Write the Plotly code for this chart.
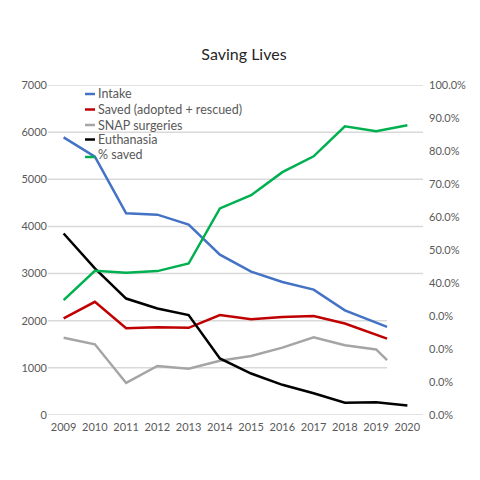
import plotly.graph_objects as go

# Values
years = [2009, 2010, 2011, 2012, 2013, 2014, 2015, 2016, 2017, 2018, 2019, 2020]
years_part = [2009, 2010, 2011, 2012, 2013, 2014, 2015, 2016, 2017, 2018, 2019.35]
years_snap = [2009, 2010, 2011, 2012, 2013, 2014, 2015, 2016, 2017, 2018, 2019, 2019.35]

intake = [5890, 5480, 4280, 4250, 4040, 3400, 3040, 2820, 2660, 2220, 1870]
saved = [2050, 2400, 1840, 1860, 1850, 2120, 2030, 2080, 2100, 1940, 1620]
snap = [1640, 1500, 680, 1040, 980, 1150, 1250, 1430, 1650, 1480, 1390, 1165]
euthanasia = [3850, 3110, 2470, 2260, 2120, 1200, 880, 640, 460, 260, 270, 200]
pct_saved = [0.348, 0.437, 0.431, 0.436, 0.459, 0.626, 0.666, 0.736, 0.784, 0.875, 0.860, 0.878]

pct_ticks = [0, 0.1, 0.2, 0.3, 0.4, 0.5, 0.6, 0.7, 0.8, 0.9, 1.0]
pct_labels = ["0.0%", "0.0%", "0.0%", "0.0%", "40.0%", "50.0%", "60.0%",
              "70.0%", "80.0%", "90.0%", "100.0%"]
grid_vals = [0, 1000, 2000, 3000, 4000, 5000, 6000, 7000]
short_grid = [1000, 2000]  # these two gridlines stop where the partial lines end

names = ["Intake", "Saved (adopted + rescued)", "SNAP surgeries", "Euthanasia", "% saved"]
colors = ["#4472C4", "#C00000", "#A5A5A5", "#000000", "#00B050"]

fig = go.Figure()

fig.add_trace(go.Scatter(x=years_part, y=intake, name=names[0], mode="lines",
                         line=dict(color=colors[0], width=2.5)))
fig.add_trace(go.Scatter(x=years_part, y=saved, name=names[1], mode="lines",
                         line=dict(color=colors[1], width=2.5)))
fig.add_trace(go.Scatter(x=years_snap, y=snap, name=names[2], mode="lines",
                         line=dict(color=colors[2], width=2.5)))
fig.add_trace(go.Scatter(x=years, y=euthanasia, name=names[3], mode="lines",
                         line=dict(color=colors[3], width=2.5)))
fig.add_trace(go.Scatter(x=years, y=pct_saved, name=names[4], mode="lines", yaxis="y2",
                         line=dict(color=colors[4], width=2.5)))

# gridlines
for v in grid_vals:
    x_end = years_part[-1] if v in short_grid else 2020.5
    fig.add_shape(type="line", xref="x", yref="y", x0=2008.5, x1=x_end, y0=v, y1=v,
                  line=dict(color="#D9D9D9", width=1.5), layer="below")

# hand-made legend with short line samples (plotly's samples are too long)
def px_x(p):
    return (p - 48) / 375

def px_y(p):
    return (415 - p) / 330

text_rows = [94, 109.5, 125, 139.5, 154]
sample_rows = [94, 109.5, 125, 139.5, 157]
for name, col, ty, sy in zip(names, colors, text_rows, sample_rows):
    fig.add_shape(type="line", xref="paper", yref="paper", x0=px_x(85), x1=px_x(95),
                  y0=px_y(sy), y1=px_y(sy), line=dict(color=col, width=2.5))
    fig.add_annotation(text=name, xref="paper", yref="paper", x=px_x(96), y=px_y(ty),
                       xanchor="left", yanchor="middle", showarrow=False,
                       font=dict(size=12.5, color="#595959"))

# the page body adds an 8px margin, so the figure is 472 square
fig.update_layout(
    width=472, height=472,
    margin=dict(l=40, r=57, t=77, b=65),
    paper_bgcolor="white", plot_bgcolor="white",
    showlegend=False,
    font=dict(family="Lato", size=11, color="#595959"),
    title=dict(text="Saving Lives", x=0.5, xanchor="center", y=1 - 46 / 472, yanchor="middle",
               font=dict(family="Lato", size=16, color="#262626")),
    xaxis=dict(range=[2008.5, 2020.5], tickvals=years, showgrid=False, zeroline=False,
               showline=False, ticks="", ticklabelstandoff=4,
               tickfont=dict(size=11, color="#595959")),
    yaxis=dict(range=[0, 7000], dtick=1000, showgrid=False,
               zeroline=False, showline=False, ticks="", tickfont=dict(size=11, color="#595959")),
    yaxis2=dict(range=[0, 1], overlaying="y", side="right", tickvals=pct_ticks, ticktext=pct_labels,
                showgrid=False, zeroline=False, showline=False, ticks="", ticklabelstandoff=5,
                tickfont=dict(size=11, color="#595959")),
)

fig.write_html("out.html")
